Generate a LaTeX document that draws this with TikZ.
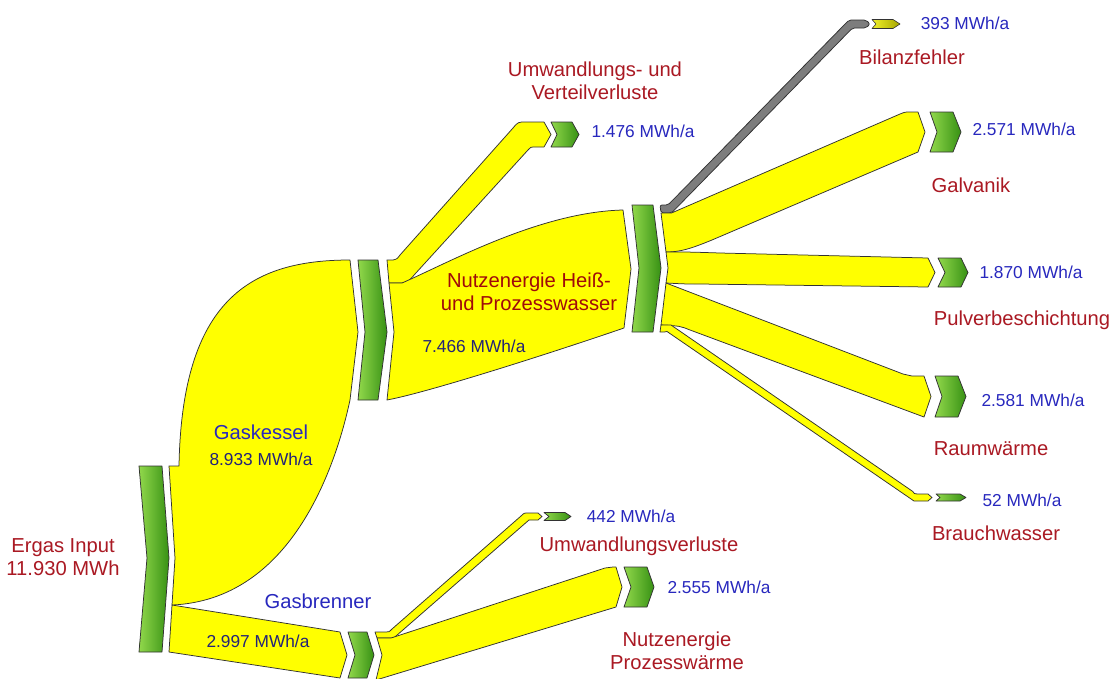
\documentclass[tikz,border=0pt]{standalone}
\usepackage{fontspec}
\setmainfont{Liberation Sans}
\definecolor{flowY}{RGB}{255,255,0}
\definecolor{edgeC}{RGB}{50,50,50}
\definecolor{gL}{RGB}{145,216,75}
\definecolor{gD}{RGB}{55,145,20}
\definecolor{lblR}{RGB}{170,25,35}
\definecolor{lblB}{RGB}{40,40,190}
\definecolor{lblN}{RGB}{35,35,120}
\definecolor{grayF}{RGB}{125,125,125}
\definecolor{oliveL}{RGB}{240,240,40}
\definecolor{oliveD}{RGB}{165,165,0}
\begin{document}
\begin{tikzpicture}[x=1pt,y=-1pt,
  flow/.style={fill=flowY,draw=edgeC,line width=0.75pt,line join=round},
  grayflow/.style={fill=grayF,draw=edgeC,line width=0.75pt,line join=round,rounded corners=2pt},
  bar/.style={left color=gL,right color=gD,draw=edgeC,line width=0.75pt,line join=round},
  olivebar/.style={left color=oliveL,right color=oliveD,draw=edgeC,line width=0.6pt,line join=round},
  rl/.style={text=lblR,font=\fontsize{20.2}{23}\selectfont,align=center,inner sep=0pt},
  bn/.style={text=lblB,font=\fontsize{20.2}{23}\selectfont,inner sep=0pt},
  bv/.style={text=lblB,font=\fontsize{17.3}{20}\selectfont,inner sep=0pt},
  nv/.style={text=lblN,font=\fontsize{17.3}{20}\selectfont,inner sep=0pt}]
\useasboundingbox (0,0) rectangle (1116,678);
\fill[white] (0,0) rectangle (1116,678);
\begin{scope}
\clip (0,0) rectangle (1116,678);
% ---------- input node
\draw[bar] (139,466) -- (162,466) -- (169,558) -- (162,652) -- (139,652) -- (147,558) -- cycle;
% ---------- Gaskessel flow
\draw[flow] (172,605) -- (175,558) -- (169,466) -- (179,466)
  .. controls (182,300) and (250,260) .. (350,260) -- (358,332) -- (350,400)
  .. controls (335,470) and (290,600) .. (172,605) -- cycle;
% ---------- Gasbrenner flow
\draw[flow] (172,605) -- (340,632) -- (347,655) -- (340,678) -- (169,652) -- cycle;
% ---------- Gaskessel node
\draw[bar] (358,260) -- (378,260) -- (387,332) -- (378,400) -- (358,400) -- (365,332) -- cycle;
% ---------- Umwandlungs- und Verteilverluste flow
\draw[flow] (389,283) -- (387,260) -- (393,260) .. controls (397,259) .. (400,255) -- (513,128)
  .. controls (518,122) .. (526,122) -- (544,122) -- (551,134.5) -- (544,147) -- (533,147)
  .. controls (531,147) .. (528,150) -- (415,274) .. controls (408,282) .. (402,283) -- cycle;
\draw[bar] (551,122) -- (572,122) -- (579,134.5) -- (572,147) -- (551,147) -- (557,134.5) -- cycle;
% ---------- Nutzenergie flow
\draw[flow] (389,283) -- (402,283) .. controls (450,262) and (540,212) .. (623,210) -- (631,269) -- (624,328)
  .. controls (560,350) and (430,392) .. (387,400) -- (394,332) -- cycle;
% ---------- Nutzenergie node
\draw[bar] (632,205) -- (653,205) -- (661,268) -- (653,332) -- (632,332) -- (639,268) -- cycle;
% ---------- Bilanzfehler
\draw[grayflow] (660,205) -- (668,205) -- (849,20) -- (866,20) -- (870,24) -- (866,28) -- (852.5,28) -- (671.5,213) -- (661,213) -- cycle;
\draw[olivebar] (872,19.5) -- (893,19.5) -- (900,24) -- (893,28.5) -- (872,28.5) -- (876,24) -- cycle;
% ---------- Galvanik
\draw[flow] (661,213) -- (671.5,213) -- (900,114) .. controls (905,112) .. (910,112) -- (918,112) -- (925,132) -- (918,152)
  -- (712,240) .. controls (690,249) and (680,252) .. (666,252) -- cycle;
\draw[bar] (930,112) -- (953,112) -- (961,132) -- (953,152) -- (930,152) -- (937,132) -- cycle;
% ---------- Pulverbeschichtung
\draw[flow] (666,252) .. controls (690,252) .. (720,253) -- (928,258) -- (935,272.5) -- (928,287)
  -- (700,284) .. controls (685,284) .. (666,283) -- (668,268) -- cycle;
\draw[bar] (938,258) -- (961,258) -- (968,272.5) -- (961,287) -- (938,287) -- (945,272.5) -- cycle;
% ---------- Raumwaerme
\draw[flow] (666,283) -- (903,374) .. controls (907,375.5) .. (912,376) -- (924,376) -- (931,396.5) -- (924,417)
  -- (690,330) .. controls (680,326) .. (661,325) -- cycle;
\draw[bar] (935,376) -- (958,376) -- (966,396.5) -- (958,417) -- (935,417) -- (942,396.5) -- cycle;
% ---------- Brauchwasser
\draw[flow] (661,325) -- (671,325) -- (912.8,491.5) .. controls (914,493.7) .. (918,494) -- (928,494) -- (932,497.5) -- (928,501)
  -- (914,501) -- (667,331.5) .. controls (665,332) .. (660,332) -- cycle;
\draw[bar] (936,494) -- (960,494) -- (966,497.5) -- (960,501) -- (936,501) -- (940,497.5) -- cycle;
% ---------- Gasbrenner node
\draw[bar] (348,632) -- (367,632) -- (374,655) -- (367,678) -- (348,678) -- (355,655) -- cycle;
% ---------- Umwandlungsverluste (Gasbrenner)
\draw[flow] (377,638) -- (375,632) -- (386,632) .. controls (389,632) .. (392,629) -- (521,516)
  .. controls (524,513) .. (528,513) -- (538,513) -- (542,516.5) -- (538,520) -- (529,520)
  -- (396,636) .. controls (394,638) .. (391,638) -- cycle;
\draw[bar] (544,512.5) -- (565,512.5) -- (571,516.5) -- (565,520.5) -- (544,520.5) -- (549,516.5) -- cycle;
% ---------- Nutzenergie Prozesswaerme
\draw[flow] (377,638) -- (391,638) -- (605,568) .. controls (609,567) .. (613,567) -- (616,567) -- (622,587) -- (616,607)
  -- (376,680) -- (382,655) -- cycle;
\draw[bar] (624,567) -- (647,567) -- (654,587) -- (647,607) -- (624,607) -- (631,587) -- cycle;
\end{scope}
% ---------- labels
\node[rl] (ergas) at (63,557) {Ergas Input\\11.930 MWh};
\node[bn] (gk) at (261,432) {Gaskessel};
\node[nv] (gkv) at (261,459) {8.933 MWh/a};
\node[bn] (gb) at (318,601) {Gasbrenner};
\node[nv] (gbv) at (258,641) {2.997 MWh/a};
\node[rl] (uvv) at (595,81) {Umwandlungs- und\\Verteilverluste};
\node[bv] (uvvv) at (643,131) {1.476 MWh/a};
\node[rl,text={rgb,255:red,160;green,10;blue,10}] (nhp) at (529,292) {Nutzenergie Heiß-\\und Prozesswasser};
\node[nv] (nhpv) at (474,346) {7.466 MWh/a};
\node[bv] (bfv) at (965,23) {393 MWh/a};
\node[rl] (bf) at (912,57) {Bilanzfehler};
\node[bv] (gav) at (1024,129) {2.571 MWh/a};
\node[rl] (ga) at (971,185) {Galvanik};
\node[bv] (pbv) at (1031,272) {1.870 MWh/a};
\node[rl] (pb) at (1022,320) {Pulverbeschichtung};
\node[bv] (rwv) at (1033,400) {2.581 MWh/a};
\node[rl] (rw) at (991,449) {Raumwärme};
\node[bv] (bwv) at (1022,500) {52 MWh/a};
\node[rl] (bw) at (996,533) {Brauchwasser};
\node[bv] (uv2v) at (631,516) {442 MWh/a};
\node[rl] (uv2) at (639,546) {Umwandlungsverluste};
\node[bv] (npv) at (719,587) {2.555 MWh/a};
\node[rl] (np) at (677,651) {Nutzenergie\\Prozesswärme};
\end{tikzpicture}
\end{document}
